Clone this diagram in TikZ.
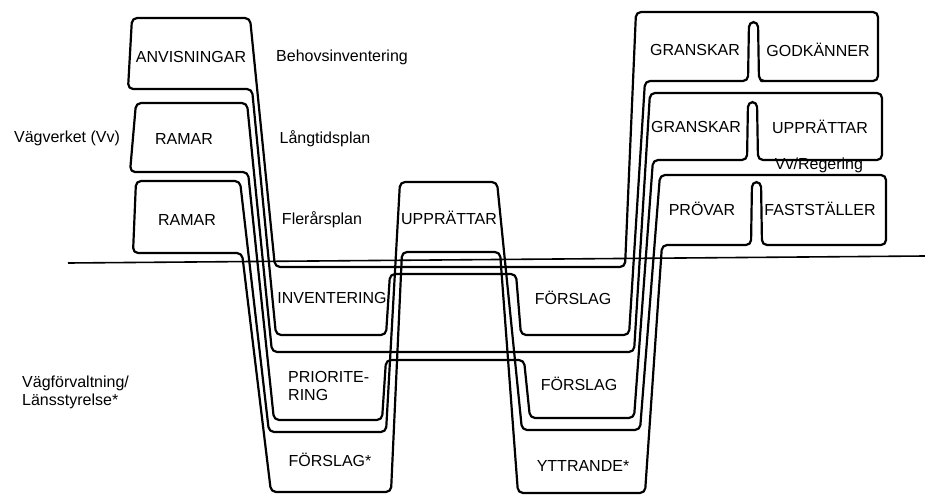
\documentclass[tikz,border=0pt]{standalone}
\usepackage{fontspec}
\setmainfont{Liberation Sans}
\begin{document}
\begin{tikzpicture}[x=1pt,y=-1pt,
band/.style={line width=2.2pt,rounded corners=5pt,line join=round},
sep/.style={line width=1.6pt},
lab/.style={font=\fontsize{16}{18}\selectfont,inner sep=0pt},
multi/.style={lab,align=left,anchor=west}]
\useasboundingbox (0,0) rectangle (925,495);
\draw[sep] (68,263) -- (925,256);
\draw[band] (132,18) -- (250,18) -- (275,267) -- (625,267) -- (636,12) -- (878,12) -- (878,81)
  -- (766,81) -- (759,81) -- (758,22) -- (749,22) -- (748,81)
  -- (645,81) -- (629,335) -- (521,335) -- (516,274) -- (390,274) -- (386,335) -- (276,335)
  -- (252,89) -- (128,89) -- cycle;
\draw[band] (136,103) -- (247,103) -- (272,352) -- (634,352) -- (650,93) -- (882,93) -- (882,160)
  -- (758,160) -- (757,102) -- (748,102) -- (747,160)
  -- (653,160) -- (634,418) -- (530,418) -- (524,360) -- (386,360) -- (382,420) -- (274,420)
  -- (248,172) -- (130,172) -- cycle;
\draw[band] (136,181) -- (240,181) -- (269,432) -- (386,432) -- (400,182) -- (497,182) -- (522,430)
  -- (640,430) -- (660,175) -- (886,175) -- (886,245)
  -- (762,245) -- (761,182) -- (752,182) -- (751,245)
  -- (662,245) -- (645,493) -- (518,493) -- (500,252) -- (402,252) -- (391,492) -- (271,492)
  -- (242,253) -- (133,253) -- cycle;
\node[lab] (vv) at (67,138) {Vägverket (Vv)};
\node[multi] (vf) at (22,392) {Vägförvaltning/\\Länsstyrelse*};
\node[lab] (anv) at (191,57) {ANVISNINGAR};
\node[lab] (behov) at (342,57) {Behovsinventering};
\node[lab] (ramarl) at (184,139) {RAMAR};
\node[lab] (langtid) at (325,139) {Långtidsplan};
\node[lab] (ramarf) at (187,220) {RAMAR};
\node[lab] (flerar) at (322,220) {Flerårsplan};
\node[lab] (uppr) at (449,218) {UPPRÄTTAR};
\node[lab] (inv) at (332,298) {INVENTERING};
\node[multi] (prio) at (288,386) {PRIORITE-\\RING};
\node[lab] (forslst) at (330,460) {FÖRSLAG*};
\node[lab] (forsl1) at (573,298) {FÖRSLAG};
\node[lab] (forsl2) at (579,384) {FÖRSLAG};
\node[lab] (yttr) at (583,466) {YTTRANDE*};
\node[lab] (gransk1) at (695,50) {GRANSKAR};
\node[lab] (godk) at (818,50) {GODKÄNNER};
\node[lab] (gransk2) at (696,127) {GRANSKAR};
\node[lab] (upprh) at (820,127) {UPPRÄTTAR};
\node[lab] (vvreg) at (819,165) {Vv/Regering};
\node[lab] (provar) at (702,209) {PRÖVAR};
\node[lab] (faststall) at (820,209) {FASTSTÄLLER};
\end{tikzpicture}
\end{document}
